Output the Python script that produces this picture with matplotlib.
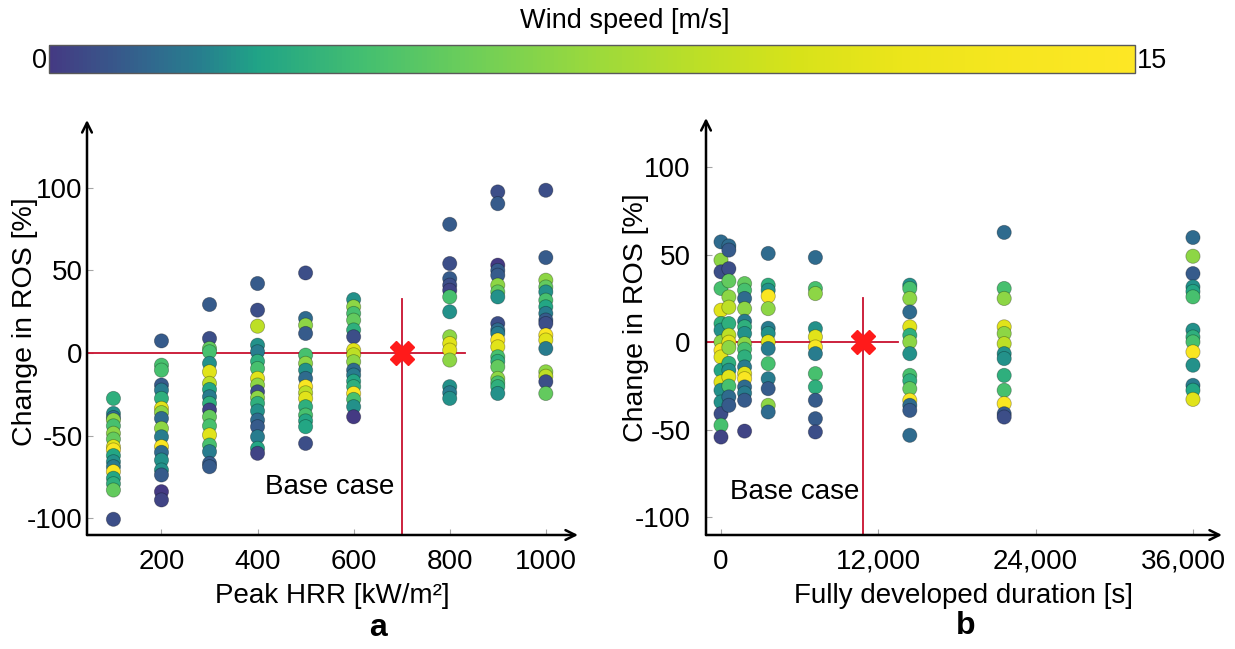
import matplotlib
matplotlib.use("Agg")
import matplotlib.pyplot as plt
import numpy as np
from matplotlib.colors import Normalize, LinearSegmentedColormap
from matplotlib.cm import ScalarMappable
from matplotlib.transforms import ScaledTranslation

plt.rcParams['font.family'] = ['Liberation Sans', 'DejaVu Sans']
plt.rcParams['axes.unicode_minus'] = False

# ---------------- data: panel a (Peak HRR) ----------------
peak_hrr = [100, 200, 300, 400, 500, 600, 800, 900, 1000]
ros_a = [
    [-27.4, -36.5, -39, -40.5, -44, -48.5, -52, -56.6, -58.6, -62, -65.7, -68.7, -71.7, -75.7, -79, -82.8, -100.5],
    [7.4, -7.3, -10.3, -19.3, -22.4, -27.4, -33.4, -36, -39.5, -45.5, -50.6, -56.6, -60, -64.7, -70.7, -73.7, -83.8, -88.8],
    [29.4, 8.9, 2.8, 0.8, -6.2, -11.3, -18.3, -22, -26.4, -30.4, -34.4, -38.5, -44, -49.5, -55.6, -59.6, -66.7, -68.7],
    [42.1, 26, 16.3, 4.8, 0.8, -5, -9.3, -15.3, -19.3, -23.4, -27, -30.4, -35, -40.5, -44.5, -50.6, -57.6, -60.6],
    [48.5, 21, 16.9, 11.9, -1.2, -6.2, -10.3, -15.3, -20.3, -24, -27.4, -32.4, -37.5, -41, -44.5, -54.6],
    [32.4, 28, 24, 19.9, 14, 9.9, 1.8, -1, -5.2, -10.3, -13.3, -17, -20.3, -24.4, -28, -32.4, -38.5],
    [77.9, 54.2, 45.1, 41.1, 38, 34, 25, 9.9, 5.8, 1.8, -4.2, -20.3, -24, -27.4],
    [97.5, 90.4, 53.2, 50, 47.1, 41.1, 37, 34, 17.9, 14, 11.9, 7.9, 3.8, -2.2, -5, -8.3, -15.3, -18, -20.3, -24.4],
    [98.5, 57.8, 44.1, 40, 37, 32, 28, 24, 20, 17.9, 10.9, 7.9, 2.8, -11.3, -14, -17.3, -24.4],
]
wind_a = [
    [3.5, 2.5, 1.5, 7, 4.5, 7, 5.5, 11, 14, 3, 2.5, 2, 14, 3, 3.5, 5.5, 0.6],
    [1, 4.5, 4.5, 1, 2, 3.5, 11, 7, 1.5, 7, 2, 14, 1.5, 2.5, 2.5, 1, 0, 0.3],
    [1, 0.6, 5.5, 4.5, 2.5, 11, 9, 3, 2, 3.5, 0.3, 5.5, 4.5, 11, 4.5, 2, 1, 1],
    [1, 0.6, 9, 2.5, 2, 3.5, 4.5, 11, 7, 0.6, 7, 3.5, 2.5, 1.5, 1, 2, 3, 0.3],
    [0.6, 1.5, 7, 1, 4.5, 7, 2.5, 1.5, 14, 9, 11, 3.5, 4.5, 3, 3, 0.6],
    [2.5, 7, 4.5, 5.5, 3.5, 0.6, 11, 9, 7, 1.5, 2, 3, 3.5, 14, 4.5, 2.5, 0],
    [1, 0.6, 1, 0.6, 0.3, 4.5, 2.5, 7, 11, 11, 7, 2.5, 2, 2.5],
    [0.6, 1, 0, 1, 1, 7, 5.5, 2.5, 0.6, 1.5, 2, 14, 11, 4.5, 3.5, 5.5, 7, 4.5, 3.5, 2.5],
    [0.6, 1, 7, 5.5, 2.5, 4.5, 3, 2, 1, 0.6, 14, 11, 2, 7, 9, 0.6, 5.5],
]
base_hrr = 700

# ---------------- data: panel b (fully developed duration) ----------------
duration = [0, 600, 1800, 3600, 7200, 14400, 21600, 36000]
ros_b = [
    [57.3, 46.9, 40.2, 30.7, 18.3, 10.7, 6.9, 0.2, -4.6, -8.4, -16, -22.7, -27.4, -34.1, -40.8, -47.4, -54.1],
    [55, 52.6, 42, 35, 25.9, 20, 10.7, 4, 0, -3, -12, -16, -19.8, -25, -31.2, -36],
    [33.5, 29.7, 25, 19.2, 12, 8.8, 5, -0.8, -4, -8.4, -14.1, -17.9, -20.8, -25.5, -29, -33.1, -50.7],
    [50.7, 32.6, 29.7, 26.3, 19.2, 8, 5, 0.2, -3.6, -12.2, -20.8, -26.5, -36, -39.8],
    [48.4, 30.7, 27.8, 7.8, 3.1, -2.7, -6.5, -17.9, -25.5, -33.1, -43.6, -51.2],
    [32.6, 30.7, 25, 17.3, 8.8, 4, 0.2, -6.5, -18.9, -22, -26.5, -33.1, -36, -38.9, -53.1],
    [62.7, 30.7, 25, 8.8, 5, -0.8, -6.5, -9.3, -18.9, -27.4, -35, -40.8, -42.7],
    [59.8, 49.1, 39.2, 31.6, 29, 25.9, 6.9, 3, 0.2, -5.5, -13.1, -24.6, -27.4, -32.6],
]
wind_b = [
    [1.5, 7, 0.6, 4.5, 11, 3.5, 2.5, 7, 14, 11, 3, 11, 2.5, 2.5, 0.6, 4.5, 0.3],
    [1.5, 1, 0.6, 5.5, 7, 9, 3.5, 9, 11, 7, 3.5, 2.5, 11, 4.5, 1.5, 1],
    [5.5, 4.5, 1.5, 7, 2, 3.5, 2.5, 7, 4.5, 3.5, 2, 11, 14, 1.5, 2, 1, 0.3],
    [1.5, 3.5, 2.5, 14, 7, 2, 2.5, 11, 2, 4.5, 2, 1, 7, 1.5],
    [1.5, 4.5, 7, 2.5, 11, 14, 2, 4.5, 3.5, 1, 1, 0.6],
    [2.5, 4.5, 7, 1.5, 11, 3.5, 7, 2.5, 4.5, 3.5, 5.5, 14, 1.5, 1, 1.5],
    [1.5, 4.5, 7, 11, 7, 9, 2.5, 2.5, 3.5, 4.5, 14, 1, 0.6],
    [1.5, 7, 1, 2.5, 3, 4.5, 2.5, 3.5, 4.5, 14, 2.5, 2, 3, 11],
]
base_duration = 10800

a_xticks = [200, 400, 600, 800, 1000]
b_xticks = [0, 12000, 24000, 36000]
b_xticklabels = ['0', '12,000', '24,000', '36,000']
yticks = [-100, -50, 0, 50, 100]

wind_min, wind_max = 0, 15

# colormap as it appears in the reference colour bar (viridis, stretched)
cb_pos = [0, 0.09, 0.14, 0.19, 0.29, 0.39, 0.50, 0.60, 0.69, 0.79, 0.89, 1.0]
cb_vir = [0.17, 0.33, 0.43, 0.58, 0.70, 0.78, 0.85, 0.90, 0.94, 0.97, 0.985, 1.0]
vir = plt.get_cmap('viridis')
cmap = LinearSegmentedColormap.from_list('ref', list(zip(cb_pos, [vir(v) for v in cb_vir])), N=256)
norm = Normalize(wind_min, wind_max)

# ---------------- figure ----------------
W, H = 1235, 649
fig = plt.figure(figsize=(W / 100, H / 100), dpi=100)


def fx(px):
    return px / W


def fy(py):
    return 1 - py / H


axA = fig.add_axes([fx(87), fy(535), fx(578 - 87), (535 - 120) / H])
axB = fig.add_axes([fx(706), fy(535), fx(1222 - 706), (535 - 118) / H])
cax = fig.add_axes([fx(49), fy(73), fx(1135 - 49), 28 / H])

red_line = '#c8102e'
msize = 105


def style_axes(ax, xlim, ylim, ypad):
    ax.set_xlim(*xlim)
    ax.set_ylim(*ylim)
    for s in ax.spines.values():
        s.set_visible(False)
    ax.tick_params(direction='in', length=4, width=0.8, color='0.65',
                   labelsize=20, labelcolor='black')
    ax.tick_params(axis='x', pad=10)
    ax.tick_params(axis='y', pad=ypad)
    arrow = dict(arrowstyle='->,head_length=0.7,head_width=0.35', lw=1.8,
                 color='black', shrinkA=0, shrinkB=0)
    ax.annotate('', xy=(1, 0), xytext=(0, 0), xycoords='axes fraction',
                arrowprops=arrow, annotation_clip=False)
    ax.annotate('', xy=(0, 1), xytext=(0, 0), xycoords='axes fraction',
                arrowprops=arrow, annotation_clip=False)
    ax.set_yticks(yticks)
    ax.set_yticklabels([str(t) for t in yticks])


def draw_points(ax, xs, ros, wind):
    for x, r, w in zip(xs, ros, wind):
        ax.scatter(np.full(len(r), x), r, c=w, cmap=cmap, norm=norm, s=msize,
                   edgecolors=(0, 0, 0, 0.3), linewidths=0.6, zorder=3)


# panel a
draw_points(axA, peak_hrr, ros_a, wind_a)
axA.plot([45, 831], [0, 0], color=red_line, lw=1.3, zorder=2)
axA.plot([base_hrr, base_hrr], [-110, 33], color=red_line, lw=1.3, zorder=2)
axA.plot([base_hrr], [0], marker='X', color='#ff1a1a', ms=17, mec='#ff1a1a', zorder=4)
axA.text(415, -81, 'Base case', fontsize=20, ha='left', va='center')
style_axes(axA, (45, 1067), (-110, 141), 3)
axA.set_xticks(a_xticks)
axA.set_xticklabels([str(t) for t in a_xticks])
axA.set_xlabel('Peak HRR [kW/m²]', fontsize=20, labelpad=6)
axA.set_ylabel('Change in ROS [%]', fontsize=20.5)
axA.yaxis.set_label_coords(-0.1, 0.513)

# panel b
draw_points(axB, duration, ros_b, wind_b)
axB.plot([-1144, 13500], [0, 0], color=red_line, lw=1.3, zorder=2)
axB.plot([base_duration, base_duration], [-110, 25], color=red_line, lw=1.3, zorder=2)
axB.plot([base_duration], [0], marker='X', color='#ff1a1a', ms=17, mec='#ff1a1a', zorder=4)
axB.text(690, -85.7, 'Base case', fontsize=20, ha='left', va='center')
style_axes(axB, (-1144, 38215), (-110, 128), 11)
axB.set_xticks(b_xticks)
axB.set_xticklabels(b_xticklabels)
last = axB.get_xticklabels()[-1]
last.set_transform(last.get_transform() + ScaledTranslation(-0.10, 0, fig.dpi_scale_trans))
axB.set_xlabel('Fully developed duration [s]', fontsize=20, labelpad=6)
axB.set_ylabel('Change in ROS [%]', fontsize=20.5)
axB.yaxis.set_label_coords(-0.11, 0.52)

# colorbar
cb = fig.colorbar(ScalarMappable(norm=norm, cmap=cmap), cax=cax, orientation='horizontal')
cb.set_ticks([])
cb.outline.set_edgecolor('0.35')
cb.outline.set_linewidth(1.0)
fig.text(fx(625), fy(21), 'Wind speed [m/s]', fontsize=19.5, ha='center', va='center')
fig.text(fx(47), fy(61), str(wind_min), fontsize=19.5, ha='right', va='center')
fig.text(fx(1137), fy(61), str(wind_max), fontsize=19.5, ha='left', va='center')

# panel letters
fig.text(fx(378), fy(628), 'a', fontsize=23, fontweight='bold', ha='center', va='center')
fig.text(fx(966), fy(626), 'b', fontsize=23, fontweight='bold', ha='center', va='center')

fig.savefig('out.png', dpi=100)
